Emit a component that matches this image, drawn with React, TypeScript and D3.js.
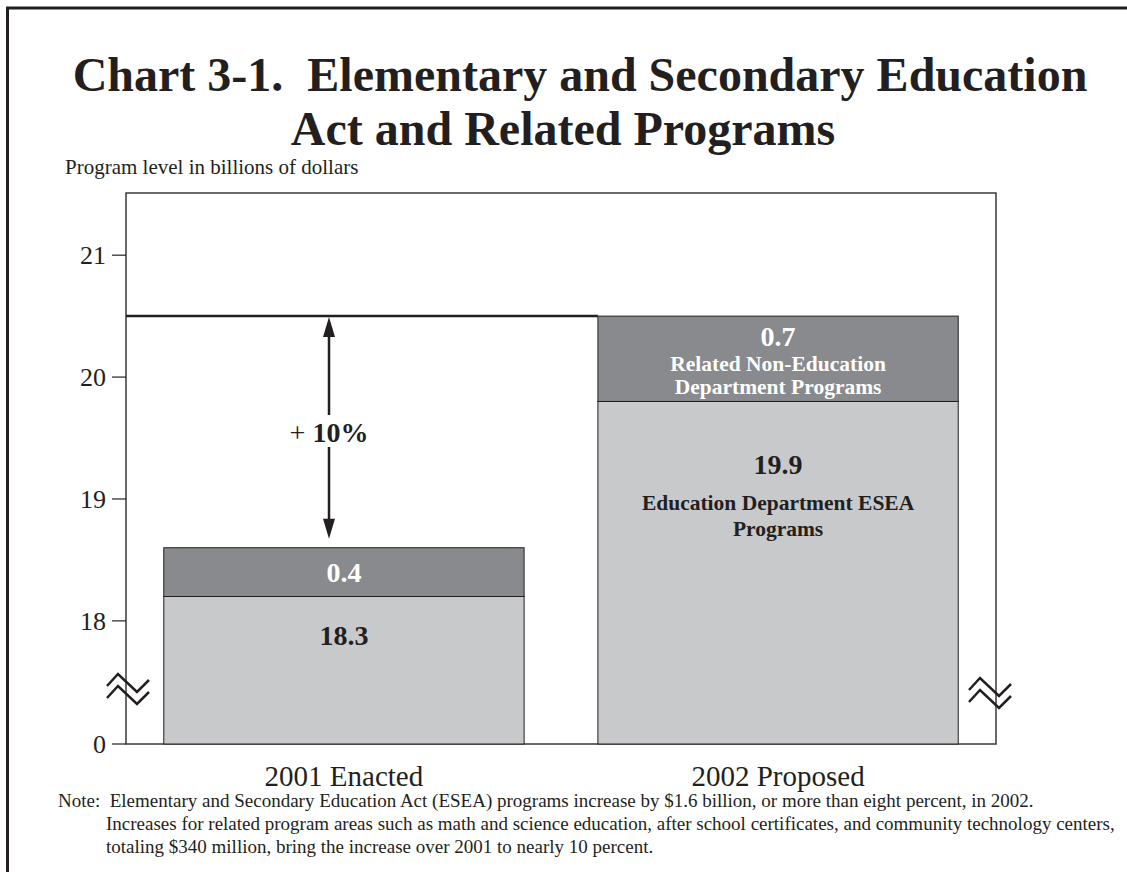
import React from "react";
import * as d3 from "d3";

const categories = ["2001 Enacted", "2002 Proposed"];
const educationValues = [18.2, 19.8];
const relatedValues = [0.4, 0.7];
const educationLabels = ["18.3", "19.9"];
const relatedLabels = ["0.4", "0.7"];
const yTicks = [0, 18, 19, 20, 21];
const title = ["Chart 3-1.  Elementary and Secondary Education", "Act and Related Programs"];
const yAxisTitle = "Program level in billions of dollars";
const changeLabel = "10%";
const noteLines = [
  "Note:  Elementary and Secondary Education Act (ESEA) programs increase by $1.6 billion, or more than eight percent, in 2002.",
  "Increases for related program areas such as math and science education, after school certificates, and community technology centers,",
  "totaling $340 million, bring the increase over 2001 to nearly 10 percent.",
];

const W = 1127;
const H = 872;
const FONT = "'Liberation Serif', 'Times New Roman', serif";
const LIGHT = "#c8c9cb";
const DARK = "#898a8d";
const INK = "#231f20";

const plot = { left: 126, right: 996, top: 193, bottom: 744 };

export default function App() {
  const x = d3
    .scaleBand<string>()
    .domain(categories)
    .range([plot.left, plot.right])
    .paddingInner(0.17)
    .paddingOuter(0.087);
  const yLin = d3.scaleLinear().domain([16.99, 21.51]).range([plot.bottom, plot.top]);
  const breakVal = 16.99;
  const y = (v: number) => yLin(v < 17 ? breakVal : v);

  const bw = x.bandwidth();
  const totals = categories.map((_, i) => educationValues[i] + relatedValues[i]);
  const maxTotal = d3.max(totals) as number;
  const refY = y(maxTotal);
  const arrowX = 329;
  const arrowTop = refY;
  const arrowBottom = y(totals[0]) - 9;
  const labelY = 442;

  const zig = (cx: number, cy: number) => {
    const line = d3.line();
    const pts = (dy: number): [number, number][] => [
      [cx - 19, cy + dy],
      [cx - 8, cy - 12 + dy],
      [cx + 11, cy + 6 + dy],
      [cx + 23, cy - 6 + dy],
    ];
    return [line(pts(0)), line(pts(12))];
  };
  const breakY = 686;

  const titleX = [580, 563];

  return (
    <svg width={W} height={H} style={{ display: "block", position: "absolute", left: 0, top: 0 }} fontFamily={FONT}>
      <rect x={0} y={0} width={W} height={H} fill="#fff" />
      {/* frame */}
      <line x1={6} y1={8} x2={W} y2={8} stroke={INK} strokeWidth={3} />
      <line x1={7.5} y1={8} x2={7.5} y2={H} stroke={INK} strokeWidth={3} />

      {/* title */}
      {title.map((t, i) => (
        <text
          key={i}
          x={titleX[i]}
          y={91 + i * 54}
          textAnchor="middle"
          fontSize={48}
          fontWeight="bold"
          fill={INK}
          style={{ whiteSpace: "pre" }}
        >
          {t}
        </text>
      ))}
      <text x={65} y={174} fontSize={21} fill={INK}>{yAxisTitle}</text>

      {/* plot box */}
      <rect x={plot.left} y={plot.top} width={plot.right - plot.left} height={plot.bottom - plot.top} fill="none" stroke="#3a3a3a" strokeWidth={1.5} />

      {/* ticks */}
      {yTicks.map((t) => (
        <g key={t}>
          <line x1={plot.left - 14} x2={plot.left} y1={y(t)} y2={y(t)} stroke={INK} strokeWidth={1.2} />
          <text x={plot.left - 20} y={y(t) + 9} textAnchor="end" fontSize={26} fill={INK}>{t}</text>
        </g>
      ))}

      {/* bars */}
      {categories.map((c, i) => {
        const x0 = x(c) as number;
        const e = educationValues[i];
        const r = relatedValues[i];
        return (
          <g key={c}>
            <rect x={x0} y={y(e)} width={bw} height={y(0) - y(e)} fill={LIGHT} stroke={INK} strokeWidth={1} />
            <rect x={x0} y={y(e + r)} width={bw} height={y(e) - y(e + r)} fill={DARK} stroke={INK} strokeWidth={1} />
          </g>
        );
      })}

      {/* bar 1 labels */}
      {(() => {
        const cx = (x(categories[0]) as number) + bw / 2;
        const e = educationValues[0];
        const r = relatedValues[0];
        return (
          <g fontWeight="bold" textAnchor="middle">
            <text x={cx} y={(y(e) + y(e + r)) / 2 + 10} fontSize={28} fill="#fff">{relatedLabels[0]}</text>
            <text x={cx} y={y(e) + 49} fontSize={28} fill={INK}>{educationLabels[0]}</text>
          </g>
        );
      })()}
      {/* bar 2 labels */}
      {(() => {
        const cx = (x(categories[1]) as number) + bw / 2;
        const e = educationValues[1];
        const r = relatedValues[1];
        const top = y(e + r);
        const mid = y(e);
        return (
          <g fontWeight="bold" textAnchor="middle">
            <text x={cx} y={top + 30} fontSize={28} fill="#fff">{relatedLabels[1]}</text>
            <text x={cx} y={top + 55} fontSize={21.5} fill="#fff">Related Non-Education</text>
            <text x={cx} y={top + 78} fontSize={21.5} fill="#fff">Department Programs</text>
            <text x={cx} y={mid + 73} fontSize={28} fill={INK}>{educationLabels[1]}</text>
            <text x={cx} y={mid + 109} fontSize={21.5} fill={INK}>Education Department ESEA</text>
            <text x={cx} y={mid + 135} fontSize={21.5} fill={INK}>Programs</text>
          </g>
        );
      })()}

      {/* reference line */}
      <line x1={plot.left} x2={x(categories[1]) as number} y1={refY} y2={refY} stroke={INK} strokeWidth={2.5} />

      {/* arrow */}
      <line x1={arrowX} x2={arrowX} y1={arrowTop + 15} y2={415} stroke={INK} strokeWidth={2.5} />
      <line x1={arrowX} x2={arrowX} y1={447} y2={arrowBottom - 15} stroke={INK} strokeWidth={2.5} />
      <path d={`M${arrowX},${arrowTop + 1} L${arrowX - 6},${arrowTop + 21} L${arrowX + 6},${arrowTop + 21} Z`} fill={INK} />
      <path d={`M${arrowX},${arrowBottom} L${arrowX - 6},${arrowBottom - 20} L${arrowX + 6},${arrowBottom - 20} Z`} fill={INK} />
      <text x={arrowX} y={labelY} textAnchor="middle" fontSize={28} fill={INK} style={{ whiteSpace: "pre" }}>
        <tspan>+ </tspan>
        <tspan fontWeight="bold">{changeLabel}</tspan>
      </text>

      {/* axis breaks */}
      {[plot.left, plot.right].map((bx, k) => (
        <g key={k}>
          {zig(bx + (k === 0 ? 0 : -8), breakY + (k === 0 ? 0 : 4)).map((d, j) => (
            <path key={j} d={d as string} fill="none" stroke={INK} strokeWidth={2.5} />
          ))}
        </g>
      ))}

      {/* category labels */}
      {categories.map((c) => (
        <text key={c} x={(x(c) as number) + bw / 2} y={786} textAnchor="middle" fontSize={29} fill={INK}>{c}</text>
      ))}

      {/* note */}
      <text fontSize={19} fill={INK} style={{ whiteSpace: "pre" }}>
        <tspan x={58} y={807}>{noteLines[0]}</tspan>
        <tspan x={106} y={830}>{noteLines[1]}</tspan>
        <tspan x={106} y={853}>{noteLines[2]}</tspan>
      </text>
    </svg>
  );
}
